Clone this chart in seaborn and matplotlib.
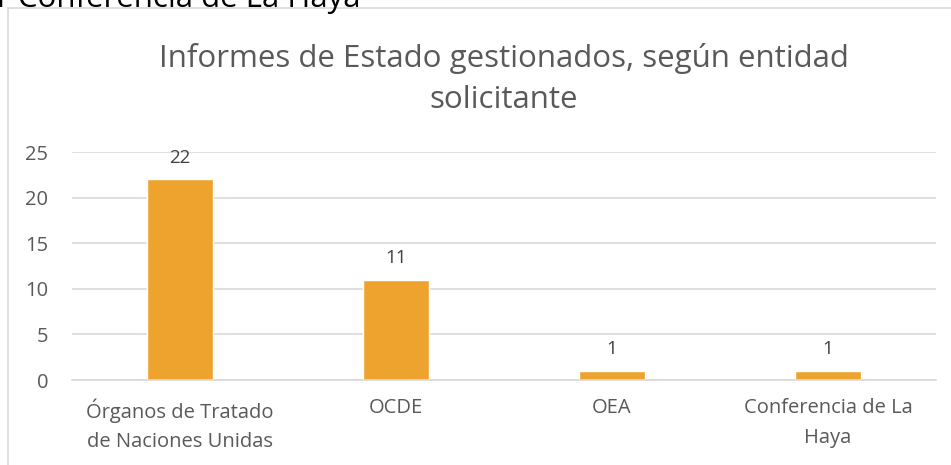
import matplotlib.pyplot as plt
import matplotlib.patches as mpatches
import pandas as pd
import seaborn as sns

categorias = ['Órganos de Tratado\nde Naciones Unidas', 'OCDE', 'OEA', 'Conferencia de La\nHaya']
informes = [22, 11, 1, 1]

df = pd.DataFrame({'entidad': categorias, 'informes': informes})

sns.set_style('white')
plt.rcParams['font.family'] = ['Open Sans', 'DejaVu Sans']

W, H = 951, 465
fig = plt.figure(figsize=(W / 100, H / 100), dpi=100)
ax = fig.add_axes([72 / W, 85 / H, (936 - 72) / W, (380 - 152) / H])

sns.barplot(data=df, x='entidad', y='informes', color='#EEA32F',
            width=0.31, saturation=1, ax=ax)

for i, v in enumerate(informes):
    ax.text(i, v + 1.4, str(v), ha='center', va='bottom', fontsize=13.5, color='#404040')

ax.set_ylim(0, 25)
ax.set_xlim(-0.5, 3.5)
ax.set_yticks(range(0, 26, 5))
ax.yaxis.grid(True, color='#d9d9d9', linewidth=1.2)
ax.set_axisbelow(True)
for s in ['top', 'right', 'left']:
    ax.spines[s].set_visible(False)
ax.spines['bottom'].set_color('#d9d9d9')
ax.spines['bottom'].set_linewidth(1.2)
ax.tick_params(axis='both', length=0, labelsize=14.5, colors='#595959')
ax.tick_params(axis='x', pad=13)
ax.tick_params(axis='y', pad=17)
for lbl in ax.get_xticklabels():
    lbl.set_linespacing(1.65)
ax.set_xlabel('')
ax.set_ylabel('')

fig.text(504 / W, 1 - 79 / H, 'Informes de Estado gestionados, según entidad\nsolicitante',
         ha='center', va='center', fontsize=22.5, color='#595959', linespacing=1.5)

# marco del gráfico
fig.patches.append(mpatches.Rectangle((8 / W, -0.1), 1.1, 1 - 8 / H + 0.1,
                                      transform=fig.transFigure, fill=False,
                                      edgecolor='#d9d9d9', linewidth=1.2))

# texto recortado de la página
fig.text(-3 / W, 1 - 7 / H, 'r Conferencia de La Haya', ha='left', va='baseline',
         fontsize=22.5, color='#000000')

fig.savefig('out.png', dpi=100)
